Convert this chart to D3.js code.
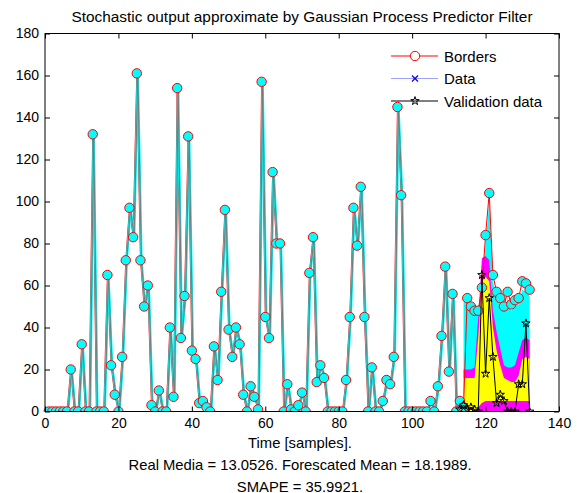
<!DOCTYPE html>
<html>
<head>
<meta charset="utf-8">
<script src="https://cdn.jsdelivr.net/npm/d3@7"></script>
<style>
  body { margin: 0; background: #fff; }
  text { font-family: Arial, "Liberation Sans", Helvetica, sans-serif; fill: #000; }
</style>
</head>
<body>
<div id="chart"></div>
<script>
const width = 584
const height = 493

const margin = {
    top: 33.5,
    bottom: 81.5,
    left: 45,
    right: 25
}

// values, sample 1..132
const borders = [
    0, 0, 0, 0, 0, 0, 20, 0, 0, 32,
    0, 0, 132, 0, 0, 0, 65, 22, 8, 0,
    26, 72, 97, 83, 161, 72, 50, 60, 3, 0,
    10, 0, 0, 40, 7, 154, 35, 55, 131, 29,
    25, 4, 5, 2, 0, 31, 15, 57, 96, 39,
    26, 40, 32, 8, 0, 12, 7, 1, 157, 45,
    35, 114, 80, 80, 0, 13, 1, 0, 3, 9,
    0, 66, 83, 14, 22, 16, 0, 0, 0, 0,
    0, 15, 45, 97, 79, 107, 45, 0, 21, 0,
    0, 5, 15, 13, 26, 145, 103, 0, 0, 0,
    0, 0, 0, 0, 5, 0, 12, 36, 69, 19,
    56, 0, 5, 2, 54, 50, 48, 48, 59, 84,
    104, 65, 57, 54, 50, 57, 51, 53, 54, 62,
    61, 58
]

// validation data, samples 113..132
const validStart = 113
const validation = [1, 3, 1, 2, 1, 0, 65, 18, 54, 26, 4, 8, 5, 0, 0, 0, 13, 13, 42, 0]

// confidence bands, samples 114..132
const bandStart = 114
const cyanTop    = [52, 52, 48, 46, 46, 56, 80, 100, 62, 54, 51, 48, 54, 48, 50, 51, 58, 57, 55]
const magentaTop = [20, 20, 20, 21, 45, 73, 74, 72, 48, 38, 30, 22, 21, 21, 22, 28, 34, 35, 34]
const yellowTop  = [16, 16, 16, 16, 35, 62, 64, 62, 40, 29, 22, 16, 15, 14, 14, 17, 25, 26, 25]
const yellowBot  = [0, 0, 0, 0, 2, 4, 5, 5, 5, 5, 5, 5, 5, 5, 5, 5, 5, 5, 5]

const xTicks = [0, 20, 40, 60, 80, 100, 120, 140]
const yTicks = [0, 20, 40, 60, 80, 100, 120, 140, 160, 180]

const titleText = "Stochastic output approximate by Gaussian Process Predictor Filter"
const xLabelLines = ["Time [samples].", "Real Media = 13.0526. Forescated Mean = 18.1989.", "SMAPE = 35.9921."]
const legendItems = ["Borders", "Data", "Validation data"]

const innerW = width - margin.left - margin.right
const innerH = height - margin.top - margin.bottom

const svg = d3.select("div#chart").append("svg").attr("width", width).attr("height", height)
const elementGroup = svg.append("g").attr("transform", `translate(${margin.left},${margin.top})`)

const x = d3.scaleLinear().domain([0, 140]).range([0, innerW])
const y = d3.scaleLinear().domain([0, 180]).range([innerH, 0])

const bordersData = borders.map((v, i) => ({x: i + 1, y: v}))
const validData = validation.map((v, i) => ({x: validStart + i, y: v}))

svg.append("clipPath").attr("id", "clip").append("rect")
    .attr("x", -6).attr("width", innerW + 6).attr("height", innerH)
const plotGroup = elementGroup.append("g").attr("clip-path", "url(#clip)")

// bands
function band(top, bottom, color) {
    const area = d3.area()
        .x((d, i) => x(bandStart + i))
        .y0((d, i) => y(bottom ? bottom[i] : 0))
        .y1(d => y(d))
    plotGroup.append("path").datum(top).attr("d", area).attr("fill", color)
}
band(cyanTop, null, "#00ffff")
band(magentaTop, null, "#ff00ff")
band(yellowTop, yellowBot, "#ffff00")

const line = d3.line().x(d => x(d.x)).y(d => y(d.y))

// borders line
plotGroup.append("path").datum(bordersData)
    .attr("d", line).attr("fill", "none").attr("stroke", "#ff0000").attr("stroke-width", 1)

// data trace, drawn a touch to the right like the original
const dataGroup = plotGroup.append("g").attr("transform", "translate(1,0)")
dataGroup.append("path").datum(bordersData.filter(d => d.x <= bandStart))
    .attr("d", line).attr("fill", "none").attr("stroke", "#00eeee").attr("stroke-width", 2.4)
dataGroup.append("path").datum(bordersData.filter(d => d.x <= bandStart))
    .attr("d", line).attr("fill", "none").attr("stroke", "#7a7a7a").attr("stroke-width", 1)

plotGroup.selectAll("circle.mark").data(bordersData).enter()
    .append("circle").attr("class", "mark")
    .attr("cx", d => x(d.x)).attr("cy", d => y(d.y)).attr("r", 4.7)
    .attr("fill", "#00ffff").attr("stroke", "#ff0000").attr("stroke-width", 1)

// validation
const star = d3.symbol().type(d3.symbolStar).size(22)
plotGroup.append("path").datum(validData)
    .attr("d", line).attr("fill", "none").attr("stroke", "#000").attr("stroke-width", 1)
plotGroup.selectAll("path.star").data(validData).enter()
    .append("path").attr("class", "star")
    .attr("transform", d => `translate(${x(d.x)},${y(d.y)})`)
    .attr("d", star).attr("fill", "none").attr("stroke", "#000").attr("stroke-width", 1)

// axes, matlab style (ticks inside, full box)
const axisGroup = elementGroup.append("g")
const xAxis = d3.axisBottom(x).tickValues(xTicks).tickSizeInner(-5).tickSizeOuter(0).tickPadding(7)
const yAxis = d3.axisLeft(y).tickValues(yTicks).tickSizeInner(-5).tickSizeOuter(0).tickPadding(6)
const xAxisTop = d3.axisTop(x).tickValues(xTicks).tickSizeInner(-5).tickSizeOuter(0).tickFormat("")
const yAxisRight = d3.axisRight(y).tickValues(yTicks).tickSizeInner(-5).tickSizeOuter(0).tickFormat("")

axisGroup.append("g").attr("transform", `translate(0,${innerH})`).call(xAxis)
axisGroup.append("g").call(yAxis)
axisGroup.append("g").call(xAxisTop)
axisGroup.append("g").attr("transform", `translate(${innerW},0)`).call(yAxisRight)
axisGroup.selectAll(".domain").remove()
axisGroup.selectAll(".tick line").attr("stroke", "#000")
axisGroup.selectAll(".tick text").style("font-size", "14px").attr("fill", "#000")
axisGroup.append("rect").attr("width", innerW).attr("height", innerH)
    .attr("fill", "none").attr("stroke", "#000").attr("stroke-width", 1)

// title and labels
svg.append("text").attr("x", margin.left + innerW / 2).attr("y", 22)
    .attr("text-anchor", "middle").style("font-size", "15.4px").text(titleText)
svg.selectAll("text.xlabel").data(xLabelLines).enter()
    .append("text").attr("class", "xlabel")
    .attr("x", margin.left + innerW / 2 - 2).attr("y", (d, i) => 447.5 + i * 22)
    .attr("text-anchor", "middle").style("font-size", "14.8px").text(d => d)

// legend
const legendGroup = svg.append("g").attr("transform", "translate(391,56)")
const rows = legendGroup.selectAll("g").data(legendItems).enter()
    .append("g").attr("transform", (d, i) => `translate(0,${i * 22.5})`)
rows.append("text").attr("x", 53).attr("y", 5.5).style("font-size", "15px").text(d => d)

const r0 = d3.select(rows.nodes()[0])
r0.append("line").attr("x1", 0).attr("x2", 47).attr("stroke", "#ff0000")
r0.append("circle").attr("cx", 24).attr("r", 4.7).attr("fill", "#fff").attr("stroke", "#ff0000")

const r1 = d3.select(rows.nodes()[1])
r1.append("line").attr("x1", 0).attr("x2", 47).attr("stroke", "#a0a0ff")
r1.append("path").attr("d", "M21,-3L27,3M21,3L27,-3").attr("stroke", "#0000ff").attr("stroke-width", 1.2)

const r2 = d3.select(rows.nodes()[2])
r2.append("line").attr("x1", 0).attr("x2", 47).attr("stroke", "#000")
r2.append("path").attr("transform", "translate(24,0)")
    .attr("d", star).attr("fill", "none").attr("stroke", "#000")
</script>
</body>
</html>
